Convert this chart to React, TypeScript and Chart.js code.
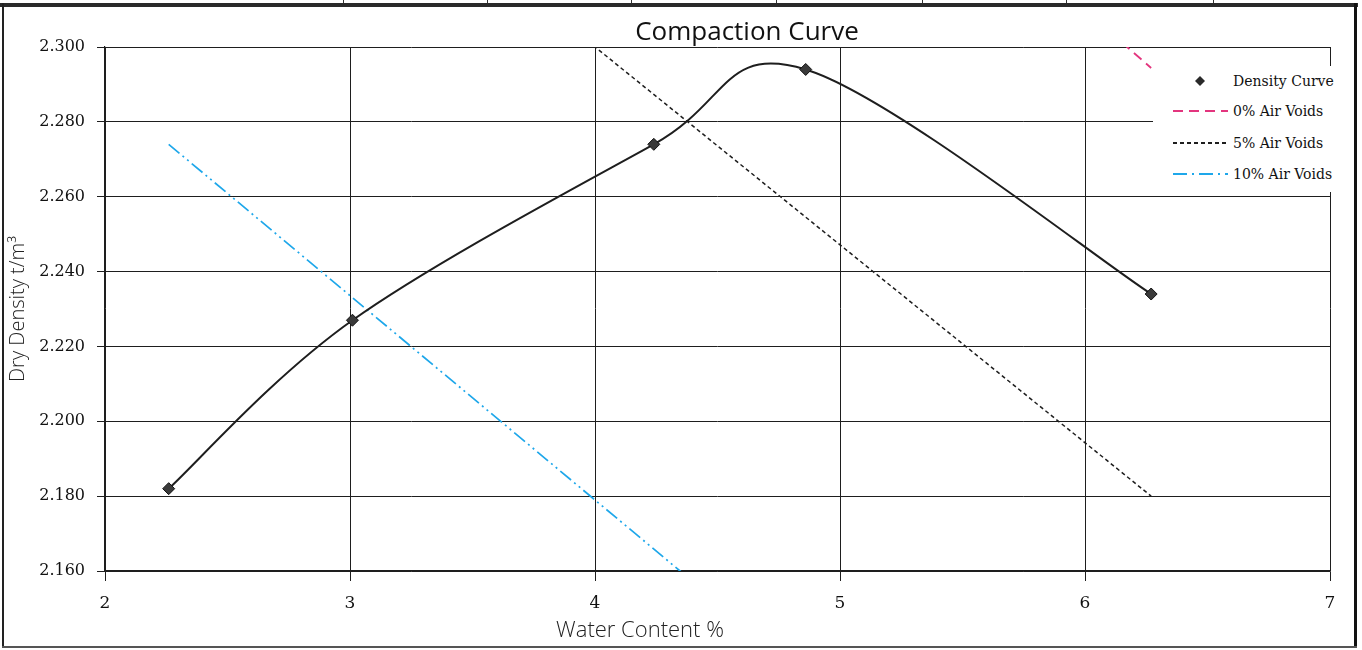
import React, { useEffect, useRef } from "react";
import { Chart, registerables } from "chart.js";

Chart.register(...registerables);

// ---- data ----
const waterContent = [2.26, 3.01, 4.24, 4.86, 6.27];
const dryDensity = [2.182, 2.227, 2.274, 2.294, 2.234];

const voidWaterContent = [2.26, 6.27];
const zeroAirVoids = [2.523, 2.2944];
const fiveAirVoids = [2.392, 2.18];
const tenAirVoids = [2.274, 2.055];

const xTicks = [2, 3, 4, 5, 6, 7];
const yTicks = [2.16, 2.18, 2.2, 2.22, 2.24, 2.26, 2.28, 2.3];

const chartTitle = "Compaction Curve";
const xTitle = "Water Content %";
const yTitle = "Dry Density t/m³";
const legendLabels = ["Density Curve", "0% Air Voids", "5% Air Voids", "10% Air Voids"];

const PINK = "#e3357e";
const BLUE = "#1ea7ea";
const DARK = "#1e1e1e";

const pairs = (xs: number[], ys: number[]) => xs.map((x, i) => ({ x, y: ys[i] }));

const SANS = "'Open Sans', 'Noto Sans', sans-serif";
const SERIF = "'DejaVu Serif', serif";

// Excel-style smoothing: uniform Catmull-Rom control points on the library's own point elements
const excelSmooth = {
  id: "excelSmooth",
  beforeDatasetDraw(chart: any, args: any) {
    if (args.index !== 0) return;
    const meta = args.meta;
    const line = meta.dataset;
    const pts = meta.data;
    if (!line || !pts || !pts.length) return;
    line.updateControlPoints(chart.chartArea, "x");
    for (let i = 0; i < pts.length; i++) {
      const p = pts[i];
      const prev = pts[i - 1] || p;
      const next = pts[i + 1] || p;
      const dx = (next.x - prev.x) / 6;
      const dy = (next.y - prev.y) / 6;
      p.cp1x = p.x - dx;
      p.cp1y = p.y - dy;
      p.cp2x = p.x + dx;
      p.cp2y = p.y + dy;
    }
    line._path = undefined;
  },
};

export default function App() {
  const ref = useRef<HTMLCanvasElement | null>(null);

  useEffect(() => {
    if (!ref.current) return;
    const chart = new Chart(ref.current, {
      type: "line",
      data: {
        datasets: [
          {
            label: legendLabels[0],
            data: pairs(waterContent, dryDensity),
            borderColor: DARK,
            borderWidth: 2,
            tension: 0.4,
            pointStyle: "rectRot",
            pointRadius: 6,
            pointBackgroundColor: "#3a3a3a",
            pointBorderColor: "#111",
            pointBorderWidth: 1,
          },
          {
            label: legendLabels[1],
            data: pairs(voidWaterContent, zeroAirVoids),
            borderColor: PINK,
            borderWidth: 1.8,
            borderDash: [10, 6],
            pointRadius: 0,
            tension: 0,
          },
          {
            label: legendLabels[2],
            data: pairs(voidWaterContent, fiveAirVoids),
            borderColor: DARK,
            borderWidth: 1.5,
            borderDash: [4, 3],
            pointRadius: 0,
            tension: 0,
          },
          {
            label: legendLabels[3],
            data: pairs(voidWaterContent, tenAirVoids),
            borderColor: BLUE,
            borderWidth: 1.7,
            borderDash: [14, 4, 2, 4, 2, 4],
            pointRadius: 0,
            tension: 0,
          },
        ] as any,
      },
      options: {
        responsive: false,
        animation: false,
        elements: { line: { capBezierPoints: false } },
        layout: { padding: { left: 0, right: 32, top: 47, bottom: 0 } },
        plugins: {
          legend: { display: false },
          tooltip: { enabled: false },
          title: { display: false },
        },
        scales: {
          x: {
            type: "linear",
            min: 2,
            max: 7,
            afterBuildTicks: (s: any) => {
              s.ticks = xTicks.map((v) => ({ value: v }));
            },
            afterFit: (s: any) => {
              s.height = 79;
            },
            ticks: {
              color: "#111",
              font: { family: SERIF, size: 17 },
              padding: 12,
              callback: (v: any) => String(v),
            },
            grid: { color: DARK, lineWidth: 1, tickLength: 10, drawTicks: true },
            border: { color: DARK, width: 1.5 },
          },
          y: {
            type: "linear",
            min: 2.16,
            max: 2.3,
            afterBuildTicks: (s: any) => {
              s.ticks = yTicks.map((v) => ({ value: v }));
            },
            afterFit: (s: any) => {
              s.width = 105;
            },
            ticks: {
              color: "#111",
              font: { family: SERIF, size: 16 },
              padding: 12,
              callback: (v: any) => Number(v).toFixed(3),
            },
            grid: { color: DARK, lineWidth: 1, tickLength: 8, drawTicks: true },
            border: { color: DARK, width: 1.2 },
            title: {
              display: true,
              text: yTitle,
              color: "#222",
              font: { family: SANS, size: 20, weight: "300" as any },
              padding: { top: 6, bottom: 0 },
            },
          },
        },
      },
      plugins: [excelSmooth],
    });
    return () => chart.destroy();
  }, []);

  const cellDividers = [343, 487, 631, 776, 922, 1066, 1213];
  const legendRowsY = [81, 111, 143, 174];

  return (
    <div
      style={{
        position: "fixed",
        left: 0,
        top: 0,
        width: 1362,
        height: 650,
        background: "#fff",
        overflow: "hidden",
      }}
    >
      <canvas
        ref={ref}
        width={1362}
        height={650}
        style={{ position: "absolute", left: 0, top: 0, width: 1362, height: 650 }}
      />
      {/* top strip remnants of a table */}
      {cellDividers.map((x) => (
        <div key={x} style={{ position: "absolute", left: x, top: 0, width: 1, height: 4, background: "#333" }} />
      ))}
      <div style={{ position: "absolute", left: 0, top: 3, width: 1358, height: 4, background: "#2a2a2a" }} />
      <div style={{ position: "absolute", left: 2, top: 3, width: 2, height: 645, background: "#222" }} />
      <div style={{ position: "absolute", left: 1354, top: 3, width: 3, height: 645, background: "#111" }} />
      <div style={{ position: "absolute", left: 2, top: 646, width: 1355, height: 2, background: "#555" }} />

      {/* chart title */}
      <div
        style={{
          position: "absolute",
          left: 747,
          top: 30,
          transform: "translate(-50%, -50%)",
          fontFamily: SANS,
          fontSize: 26,
          color: "#111",
          whiteSpace: "nowrap",
          lineHeight: 1,
        }}
      >
        {chartTitle}
      </div>

      {/* x axis title */}
      <div
        style={{
          position: "absolute",
          left: 640,
          top: 628,
          transform: "translate(-50%, -50%)",
          fontFamily: SANS,
          fontSize: 22,
          fontWeight: 300,
          color: "#222",
          whiteSpace: "nowrap",
          lineHeight: 1,
        }}
      >
        {xTitle}
      </div>

      {/* legend */}
      <div
        style={{
          position: "absolute",
          left: 1153,
          top: 66,
          width: 186,
          height: 126,
          background: "#fff",
        }}
      />
      <svg
        width={1362}
        height={650}
        style={{ position: "absolute", left: 0, top: 0, pointerEvents: "none" }}
      >
        <polygon
          points={`1200,${legendRowsY[0] - 5} 1205,${legendRowsY[0]} 1200,${legendRowsY[0] + 5} 1195,${legendRowsY[0]}`}
          fill="#2a2a2a"
        />
        <line x1={1173} x2={1228} y1={legendRowsY[1]} y2={legendRowsY[1]} stroke={PINK} strokeWidth={1.8} strokeDasharray="10 6" />
        <line x1={1173} x2={1228} y1={legendRowsY[2]} y2={legendRowsY[2]} stroke={DARK} strokeWidth={1.8} strokeDasharray="4 3" />
        <line x1={1173} x2={1228} y1={legendRowsY[3]} y2={legendRowsY[3]} stroke={BLUE} strokeWidth={1.8} strokeDasharray="14 5 2 5" />
      </svg>
      {legendLabels.map((t, i) => (
        <div
          key={t}
          style={{
            position: "absolute",
            left: 1233,
            top: legendRowsY[i] - 10,
            height: 20,
            lineHeight: "20px",
            fontFamily: SERIF,
            fontSize: 14,
            color: "#111",
            whiteSpace: "nowrap",
          }}
        >
          {t}
        </div>
      ))}
    </div>
  );
}
